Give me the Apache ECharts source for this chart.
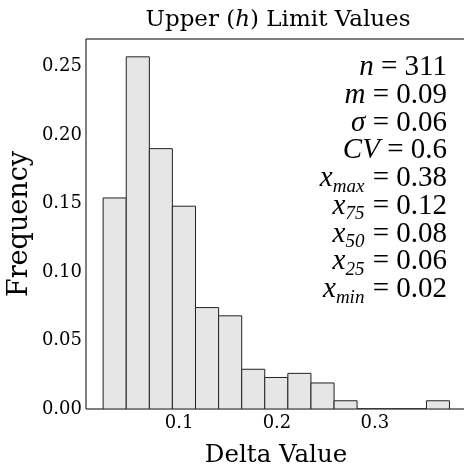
<!DOCTYPE html>
<html>
<head>
<meta charset="utf-8">
<script src="https://cdn.jsdelivr.net/npm/echarts@6/dist/echarts.min.js"></script>
<style>html,body{margin:0;padding:0;background:#fff;}#c{width:464px;height:471px;}</style>
</head>
<body>
<div id="c"></div>
<script>
// Histogram bin edges (Delta Value)
var binEdges = [0.0225, 0.0461, 0.0697, 0.0932, 0.1168, 0.1404, 0.1640, 0.1875, 0.2111, 0.2347, 0.2583, 0.2818, 0.3054, 0.3290, 0.3526, 0.3761];
// Frequency of each bin
var frequencies = [0.154, 0.257, 0.190, 0.148, 0.074, 0.068, 0.029, 0.023, 0.026, 0.019, 0.006, 0, 0, 0, 0.006];
// Tick labels
var xTicks = [0.1, 0.2, 0.3];
var yTicks = [0.00, 0.05, 0.10, 0.15, 0.20, 0.25];
// Statistics annotation
var statSymbols = ['n', 'm', 'σ', 'CV', 'x', 'x', 'x', 'x', 'x'];
var statSubs = ['', '', '', '', 'max', '75', '50', '25', 'min'];
var statValues = ['311', '0.09', '0.06', '0.6', '0.38', '0.12', '0.08', '0.06', '0.02'];

var histData = frequencies.map(function (f, i) { return [binEdges[i], binEdges[i + 1], f]; });

var serif = '"DejaVu Serif", serif';
var mathFont = '"Liberation Serif", serif';

var chart = echarts.init(document.getElementById('c'), null, {renderer: 'canvas'});

var statTexts = statSymbols.map(function (s, i) {
  var t = '{v|' + s + '}' + (statSubs[i] ? '{s|' + statSubs[i] + '}' : '') + '{e| = ' + statValues[i] + '}';
  return {
    type: 'text',
    right: 17,
    top: 53 + i * 27.75,
    style: {
      text: t,
      align: 'right',
      rich: {
        v: {fontFamily: mathFont, fontStyle: 'italic', fontSize: 29, fill: '#000'},
        s: {fontFamily: mathFont, fontStyle: 'italic', fontSize: 19, fill: '#000', padding: [16, 1, 0, 0]},
        e: {fontFamily: mathFont, fontSize: 29, fill: '#000'}
      }
    }
  };
});

chart.setOption({
  animation: false,
  backgroundColor: '#fff',
  title: {
    text: '{a|Upper (}{i|h}{a|) Limit Values}',
    left: 273,
    top: 4,
    textAlign: 'center',
    textStyle: {
      fontWeight: 'normal',
      rich: {
        a: {fontFamily: serif, fontSize: 23, fontWeight: 'normal', color: '#000'},
        i: {fontFamily: serif, fontStyle: 'italic', fontWeight: 'normal', fontSize: 23, color: '#000'}
      }
    }
  },
  grid: {left: 86, right: -2, top: 39, bottom: 62, containLabel: false, outerBoundsMode: 'none',
    show: true, borderColor: '#000', borderWidth: 1, backgroundColor: 'transparent'},
  xAxis: {
    type: 'value',
    min: 0.005,
    max: 0.393,
    splitLine: {show: false},
    axisLine: {show: false},
    axisTick: {show: false, customValues: xTicks},
    axisLabel: {customValues: xTicks, fontFamily: serif, fontSize: 18, color: '#000', margin: 5,
      formatter: function (v) { return v.toFixed(1); }},
    name: 'Delta Value',
    nameLocation: 'middle',
    nameGap: 34,
    nameMoveOverlap: false,
    nameTextStyle: {fontFamily: serif, fontSize: 24.5, color: '#000'}
  },
  yAxis: {
    type: 'value',
    min: 0,
    max: 0.27,
    interval: 0.05,
    splitLine: {show: false},
    axisLine: {show: false},
    axisTick: {show: false},
    axisLabel: {customValues: yTicks, fontFamily: serif, fontSize: 18, color: '#000', margin: 4,
      formatter: function (v) { return v.toFixed(2); }},
    name: 'Frequency',
    nameLocation: 'middle',
    nameGap: 53,
    nameMoveOverlap: false,
    nameTextStyle: {fontFamily: serif, fontSize: 27, color: '#000'}
  },
  series: [{
    type: 'custom',
    data: histData,
    encode: {x: [0, 1], y: 2},
    clip: true,
    renderItem: function (params, api) {
      var p0 = api.coord([api.value(0), api.value(2)]);
      var p1 = api.coord([api.value(1), 0]);
      return {
        type: 'rect',
        shape: {x: p0[0], y: p0[1], width: p1[0] - p0[0], height: p1[1] - p0[1]},
        style: {fill: '#e6e6e6', stroke: '#222', lineWidth: 1}
      };
    }
  }],
  graphic: statTexts
});
</script>
</body>
</html>
